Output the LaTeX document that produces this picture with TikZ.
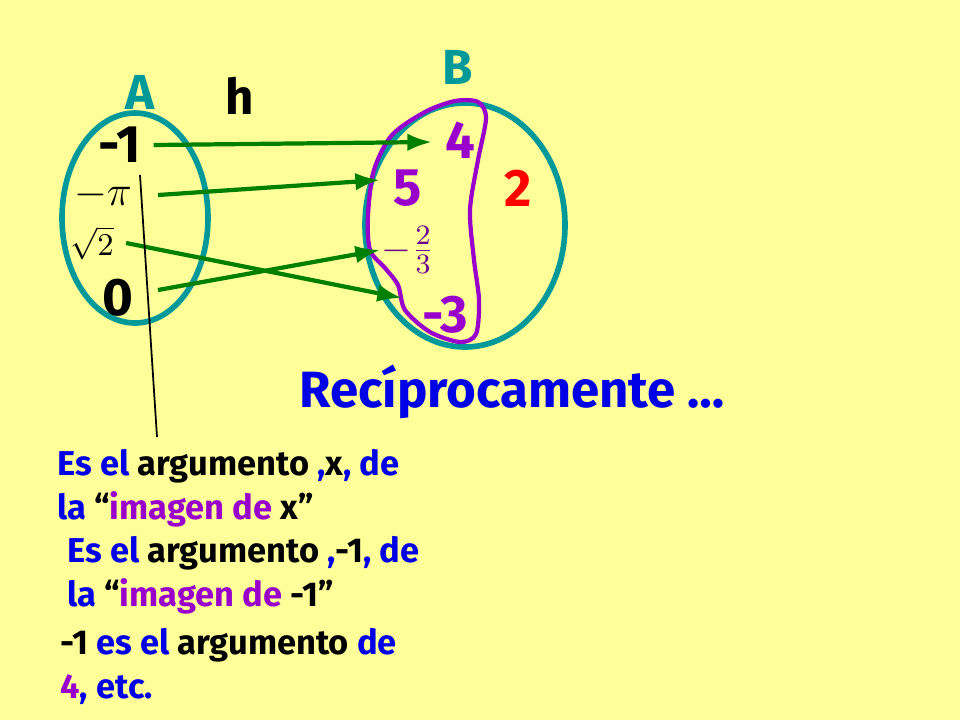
\documentclass[tikz,border=0pt]{standalone}
\usepackage{fontspec}
\setmainfont{Fira Sans}
\usetikzlibrary{arrows.meta}
\definecolor{bgyellow}{RGB}{255,255,153}
\definecolor{setteal}{RGB}{0,153,153}
\definecolor{argreen}{RGB}{0,128,0}
\definecolor{numpurple}{RGB}{153,0,204}
\definecolor{txtblue}{RGB}{0,0,230}
\tikzset{
  elem/.style={font=\bfseries\fontsize{15}{18}\selectfont},
  lbl/.style={font=\bfseries\fontsize{14}{17}\selectfont},
  note/.style={font=\bfseries\fontsize{9.8}{12.5}\selectfont, anchor=west, align=left},
  maparrow/.style={argreen, line width=1.2pt, -{Latex[length=7pt,width=5pt]}}
}
\begin{document}
\begin{tikzpicture}[x=0.01cm, y=-0.01cm]
    \fill[bgyellow] (0,0) rectangle (960,720);
    \useasboundingbox (0,0) rectangle (960,720);

    % set labels
    \node[lbl, setteal] (nameA) at (140,92) {A};
    \node[lbl] (nameh) at (240,96) {h};
    \node[lbl, setteal] (nameB) at (458,67) {B};

    % sets
    \draw[setteal, line width=1.6pt] (135,218) ellipse [x radius=73, y radius=105];
    \draw[setteal, line width=1.6pt] (465,225) ellipse [x radius=100, y radius=122];

    % image (purple outline)
    \draw[numpurple, line width=1.2pt] plot[smooth cycle, tension=0.5] coordinates {
      (425,112) (455,101) (478,102) (486,118) (478,160) (470,210) (474,260)
      (479,300) (476,334) (460,342) (430,332) (405,310) (398,285) (385,268)
      (370,250) (368,215) (374,170) (392,135)};

    % elements of A
    \node[elem] (am1) at (120,145) {-1};
    \node[font=\fontsize{12}{14}\selectfont] (api) at (103,195) {$-\pi$};
    \node[font=\fontsize{9}{11}\selectfont] (asq) at (92,243) {$\sqrt{2}$};
    \node[elem] (azero) at (118,298) {0};

    % elements of B
    \node[elem, numpurple] (bfour) at (460,140) {4};
    \node[elem, numpurple] (bfive) at (408,188) {5};
    \node[elem, red] (btwo) at (518,188) {2};
    \node[numpurple!70!black, font=\fontsize{11}{13}\selectfont] (bfrac) at (408,250) {$-\frac{2}{3}$};
    \node[elem, numpurple] (bmthree) at (445,315) {-3};

    % mapping
    \draw[maparrow] (am1.east) -- (432,142);
    \draw[maparrow] (158,195) -- (380,180);
    \draw[maparrow] (asq.east) -- (402,298);
    \draw[maparrow] (158,290) -- (380,250);

    % pointer to the note
    \coordinate (notetip) at (157,437);
    \draw[black, line width=0.5pt] (140,175) -- (notetip);

    \node[font=\bfseries\fontsize{14.5}{17}\selectfont, txtblue] (recip) at (512,392) {Recíprocamente …};

    % notes
    \node[note] (noteone) at (45,488) {\textcolor{txtblue}{Es el} argumento \textcolor{txtblue}{,}x\textcolor{txtblue}{, de}\\
      \textcolor{txtblue}{la} “\textcolor{numpurple}{imagen de} x”};
    \node[note] (notetwo) at (55,575) {\textcolor{txtblue}{Es el} argumento \textcolor{txtblue}{,}-1\textcolor{txtblue}{, de}\\
      \textcolor{txtblue}{la} “\textcolor{numpurple}{imagen de} -1”};
    \node[note] (notethree) at (48,666) {-1 \textcolor{txtblue}{es el} argumento \textcolor{txtblue}{de}\\
      \textcolor{numpurple}{4}\textcolor{txtblue}{, etc.}};
\end{tikzpicture}
\end{document}
